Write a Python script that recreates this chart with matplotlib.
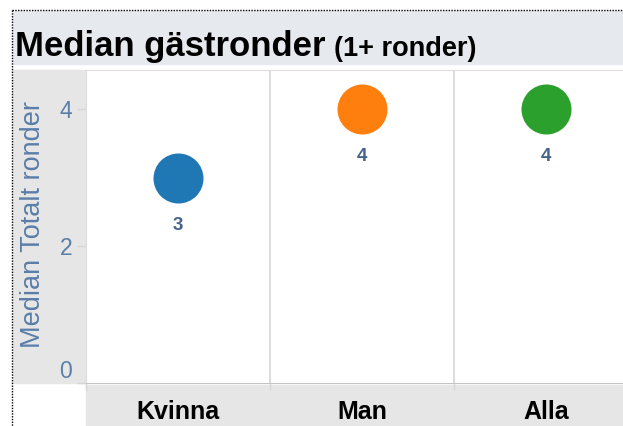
import matplotlib
matplotlib.use("Agg")
import matplotlib.pyplot as plt
from matplotlib.patches import Rectangle
from matplotlib.lines import Line2D

# data
categories = ["Kvinna", "Man", "Alla"]
medians = [3, 4, 4]
colors = ["#1f77b4", "#ff7f0e", "#2ca02c"]
yticks = [0, 2, 4]

W, H = 623, 426

def fx(x):
    return x / W

def fy(y):
    return 1 - y / H

bold_font = ["Liberation Sans", "DejaVu Sans"]
regular = ["Liberation Sans", "DejaVu Sans"]
tick_col = "#5a7ea8"
lab_col = "#45628a"
line_col = "#d6d6d6"

fig = plt.figure(figsize=(W / 100, H / 100), dpi=100)
fig.patch.set_facecolor("white")

# background bands
fig.add_artist(Rectangle((fx(13), fy(64)), fx(623 - 13), (64 - 11) / H,
                         transform=fig.transFigure, color="#e6e9ed", zorder=-5))
fig.add_artist(Rectangle((fx(13), fy(383)), fx(86 - 13), (383 - 70) / H,
                         transform=fig.transFigure, color="#e6e6e6", zorder=-5))
fig.add_artist(Rectangle((fx(86), fy(426)), fx(623 - 86), (426 - 385) / H,
                         transform=fig.transFigure, color="#e6e6e6", zorder=-5))

# dotted frame
fig.add_artist(Line2D([fx(12), fx(12)], [fy(10), 0], transform=fig.transFigure,
                      color="black", lw=1, ls=(0, (1, 1))))
fig.add_artist(Line2D([fx(12), 1], [fy(10), fy(10)], transform=fig.transFigure,
                      color="black", lw=1, ls=(0, (1, 1))))

# title, subtitle placed right after it
t1 = fig.text(fx(15), fy(56), "Median gästronder", fontsize=25, fontweight="bold",
              family=bold_font, va="baseline", ha="left")
renderer = fig.canvas.get_renderer()
end_px = t1.get_window_extent(renderer).x1
fig.text((end_px + 8) / W, fy(56), "(1+ ronder)", fontsize=19.5, fontweight="bold",
         family=bold_font, va="baseline", ha="left")

ax = fig.add_axes([fx(86), fy(383), (638 - 86) / W, (383 - 70) / H])
ax.set_facecolor("white")

x = list(range(len(categories)))
for i, v, c in zip(x, medians, colors):
    ax.plot(i, v, "o", ms=36, color=c, mec="none", zorder=3)
    ax.annotate(str(v), (i, v), xytext=(0, -34.5), textcoords="offset points",
                ha="center", va="center", fontsize=13.5, fontweight="bold",
                color=lab_col, family=regular)

ax.set_xlim(-0.5, 2.5)
ax.set_ylim(0, 313 / 68.5)

for sep in [0.5, 1.5]:
    ax.axvline(sep, color=line_col, lw=1.2, zorder=1)

ax.set_yticks(yticks)
ax.set_yticklabels([str(t) for t in yticks], family=regular)
ax.tick_params(axis="y", direction="out", length=6.5, width=1, color=line_col,
               pad=3.5, labelsize=16.5, labelcolor=tick_col)
ax.yaxis.get_major_ticks()[0].label1.set_va("bottom")

ax.set_xticks(x)
ax.set_xticklabels(categories, fontweight="bold", family=bold_font)
ax.set_xticks([-0.5, 0.5, 1.5], minor=True)
ax.tick_params(axis="x", which="major", length=0, pad=12, labelsize=18,
               labelcolor="black")
ax.tick_params(axis="x", which="minor", length=5, width=1, color=line_col)

ax.set_ylabel("Median Totalt ronder", fontsize=19.5, color=tick_col,
              family=regular)
ax.yaxis.label.set_va("center")
ax.yaxis.set_label_coords((33 - 86) / (638 - 86), (383 - 224) / 313)

ax.spines["right"].set_visible(False)
ax.spines["top"].set_color("#dcdcdc")
ax.spines["left"].set_color("#dcdcdc")
ax.spines["bottom"].set_color("#c4c4c4")
ax.spines["bottom"].set_linestyle((0, (2, 1)))

fig.savefig("out.png", dpi=100)
